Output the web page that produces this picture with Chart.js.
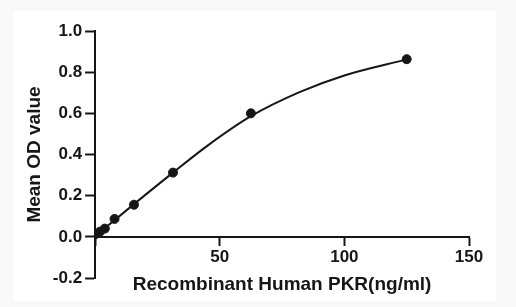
<!DOCTYPE html>
<html>
<head>
<meta charset="utf-8">
<script src="https://cdn.jsdelivr.net/npm/chart.js@4/dist/chart.umd.min.js"></script>
<style>
  html, body { margin: 0; padding: 0; background: #f8f8f8; }
  #frame { position: absolute; left: 13px; top: 11px; width: 483px; height: 290px; background: #fff; }
  #wrap { position: absolute; left: 0; top: 0; width: 516px; height: 307px; }
</style>
</head>
<body>
<div id="frame"></div>
<div id="wrap"><canvas id="chart" width="516" height="307"></canvas></div>
<script>
// ── Data ──
const concentrations = [0, 1.95, 3.9, 7.8, 15.6, 31.25, 62.5, 125];
const meanOD = [0.012, 0.025, 0.04, 0.087, 0.156, 0.312, 0.6, 0.863];

// fitted curve, sampled by eye
const curveX = [0, 15.6, 31.25, 45, 62.5, 82, 100, 125];
const curveY = [0.003, 0.159, 0.312, 0.442, 0.586, 0.703, 0.784, 0.862];

const xTicks = [0, 50, 100, 150];
const yTicks = [-0.2, 0, 0.2, 0.4, 0.6, 0.8, 1.0];

const INK = '#161616';
const FONT = 'Liberation Sans, Arial, sans-serif';

new Chart(document.getElementById('chart'), {
  type: 'scatter',
  data: {
    datasets: [
      {
        label: 'Fit',
        data: curveX.map((x, i) => ({ x, y: curveY[i] })),
        showLine: true,
        borderColor: INK,
        borderWidth: 2,
        pointRadius: 0,
        cubicInterpolationMode: 'monotone'
      },
      {
        label: 'Standards',
        data: concentrations.map((x, i) => ({ x, y: meanOD[i] })),
        backgroundColor: INK,
        borderColor: INK,
        pointRadius: 4.5,
        pointHoverRadius: 4.5
      }
    ]
  },
  options: {
    responsive: false,
    animation: false,
    devicePixelRatio: 1,
    layout: { padding: { left: 23, right: 47, top: 31, bottom: 29 } },
    plugins: { legend: { display: false }, tooltip: { enabled: false } },
    scales: {
      x: {
        type: 'linear',
        position: { y: 0 },
        min: 0, max: 150,
        afterBuildTicks: s => { s.ticks = xTicks.map(v => ({ value: v })); },
        grid: { drawOnChartArea: false, drawTicks: true, tickLength: 8, tickWidth: 2, color: INK },
        border: { color: INK, width: 2 },
        ticks: {
          color: INK, padding: 2, autoSkip: false, maxRotation: 0,
          font: { family: FONT, size: 17, weight: 'bold' },
          callback: v => v === 0 ? '' : v
        },
        title: {
          display: true, text: 'Recombinant Human PKR(ng/ml)', color: INK,
          font: { family: FONT, size: 19, weight: 'bold' },
          padding: { top: 4, bottom: 0 }
        }
      },
      y: {
        min: -0.2, max: 1.0,
        afterBuildTicks: s => { s.ticks = yTicks.map(v => ({ value: v })); },
        grid: { drawOnChartArea: false, drawTicks: true, tickLength: 10, tickWidth: 2, color: INK },
        border: { color: INK, width: 2 },
        ticks: {
          color: INK, padding: 3, autoSkip: false,
          font: { family: FONT, size: 17, weight: 'bold' },
          callback: v => v.toFixed(1)
        },
        title: {
          display: true, text: 'Mean OD value', color: INK,
          font: { family: FONT, size: 19, weight: 'bold' },
          padding: { top: 0, bottom: 4 }
        }
      }
    }
  }
});
</script>
</body>
</html>
